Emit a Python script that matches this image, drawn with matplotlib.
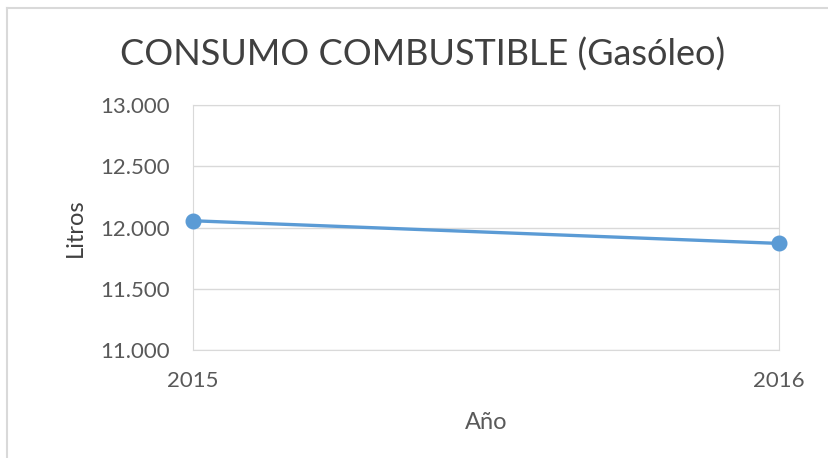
import matplotlib.pyplot as plt
from matplotlib.ticker import FuncFormatter
from matplotlib.lines import Line2D

plt.rcParams['font.family'] = ['Lato', 'DejaVu Sans']

# datos
anios = [2015, 2016]
litros = [12055, 11870]
yticks = [11000, 11500, 12000, 12500, 13000]

fig = plt.figure(figsize=(8.29, 4.58), dpi=100)
ax = fig.add_axes([193/829, 1-350/458, (779-193)/829, (350-105)/458])

ax.plot(anios, litros, color='#5B9BD5', linewidth=2.4, marker='o',
        markersize=10.5, clip_on=False, zorder=3)

ax.set_xlim(2015, 2016)
ax.set_ylim(11000, 13000)
ax.set_yticks(yticks)
ax.set_xticks(anios)
ax.yaxis.set_major_formatter(FuncFormatter(lambda v, p: '{:,.0f}'.format(v).replace(',', '.')))
ax.grid(axis='y', color='#D9D9D9', linewidth=1)
ax.set_axisbelow(True)
for s in ax.spines.values():
    s.set_color('#D9D9D9')
ax.tick_params(length=0, labelsize=16, colors='#595959')
ax.tick_params(axis='x', pad=15)
ax.tick_params(axis='y', pad=17)

ax.set_ylabel('Litros', fontsize=17, color='#404040', labelpad=10)
ax.set_xlabel('Año', fontsize=17, color='#595959', labelpad=15)

fig.text(423/829, 1-55/458, 'CONSUMO COMBUSTIBLE (Gasóleo)', ha='center', va='center',
         fontsize=26, color='#404040')

# marco del area del grafico
fig.add_artist(Line2D([7/829, 7/829], [0, 1-8/458], color='#D9D9D9', linewidth=1.5))
fig.add_artist(Line2D([7/829, 1], [1-8/458, 1-8/458], color='#D9D9D9', linewidth=1.5))

plt.savefig('out.png')
